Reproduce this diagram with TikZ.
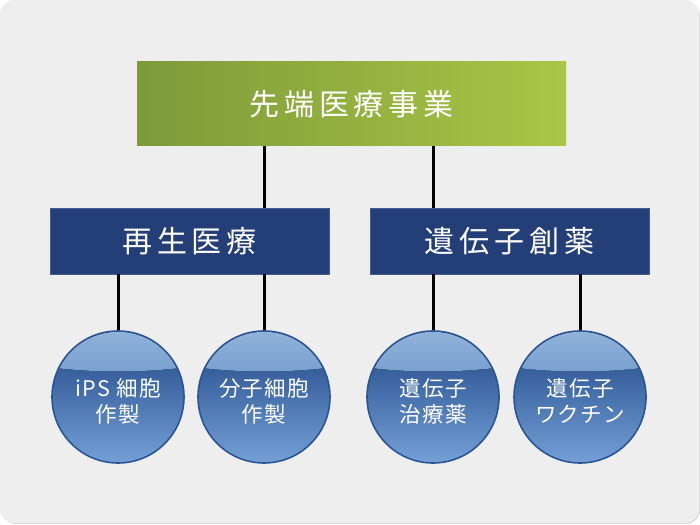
\documentclass[tikz,border=0pt]{standalone}
\usepackage{fontspec}
\setmainfont{Noto Sans CJK JP}
\newfontfamily\jpspaced[LetterSpace=16]{Noto Sans CJK JP}
\newfontfamily\jpball[LetterSpace=6]{Noto Sans CJK JP}
\usetikzlibrary{positioning}
\definecolor{bgGray}{HTML}{EEEEEE}
\definecolor{bgShadow}{HTML}{DADADA}
\definecolor{headLeft}{HTML}{7D9A3A}
\definecolor{headRight}{HTML}{ABC545}
\definecolor{groupBlue}{HTML}{243F78}
\definecolor{ballTop}{HTML}{1D4584}
\definecolor{ballMid}{HTML}{2D5EA2}
\definecolor{ballBottom}{HTML}{74A0D6}
\definecolor{ballRim}{HTML}{2A5594}
\definecolor{glossTop}{HTML}{92B4DC}
\definecolor{glossBottom}{HTML}{6C96C9}

\tikzset{
  headbox/.style={rectangle, minimum width=429pt, minimum height=84pt, inner sep=0pt,
    left color=headLeft, right color=headRight, text=white,
    font=\jpspaced\fontsize{30}{34}\selectfont},
  groupbox/.style={rectangle, minimum width=279pt, minimum height=66pt, inner sep=0pt,
    fill=groupBlue, draw=groupBlue!85!white, line width=0.6pt, text=white,
    font=\jpspaced\fontsize{30}{34}\selectfont},
  ball/.style={circle, minimum size=132pt, inner sep=0pt, line width=1.6pt,
    draw=ballRim, top color=ballTop, middle color=ballMid, bottom color=ballBottom},
  balltext/.style={text=white, align=center, yshift=-4pt,
    font=\jpball\fontsize{21.5}{26}\selectfont},
  gloss/.style={top color=glossTop, bottom color=glossBottom},
  link/.style={draw=black, line width=3pt}
}

\begin{document}
\begin{tikzpicture}[x=1pt,y=1pt]
  \useasboundingbox (0,0) rectangle (700,524);

  % background panel
  \fill[bgShadow, rounded corners=14pt] (2,0) rectangle (700,522);
  \fill[bgGray, rounded corners=14pt] (0,1) rectangle (699,524);

  % boxes
  \node[headbox] (top) at (351.5,420) {先端医療事業};
  \node[groupbox] (regen) at (189.5,283) {再生医療};
  \node[groupbox] (gene) at (509.5,283) {遺伝子創薬};

  % balls
  \node[ball] (ips) at (118,127) {};
  \node[ball] (mol) at (264,127) {};
  \node[ball] (therapy) at (433,127) {};
  \node[ball] (vaccine) at (580,127) {};

  % gloss on the balls
  \foreach \b in {ips,mol,therapy,vaccine}{
    \begin{scope}
      \clip (\b.center) circle (65.2);
      \fill[gloss] (\b.center) ++(-70,30) .. controls +(45,-6) and +(-45,-6) .. ++(140,0)
        -- ++(0,40) -- ++(-140,0) -- cycle;
    \end{scope}
  }

  % ball texts
  \node[balltext] (ipsText) at (ips) {iPS 細胞\\作製};
  \node[balltext] (molText) at (mol) {分子細胞\\作製};
  \node[balltext] (therapyText) at (therapy) {遺伝子\\治療薬};
  \node[balltext] (vaccineText) at (vaccine) {遺伝子\\ワクチン};

  % connectors
  \draw[link] (top.south -| mol) -- (regen.north -| mol);
  \draw[link] (top.south -| therapy) -- (gene.north -| therapy);
  \draw[link] (regen.south -| ips) -- (ips.north);
  \draw[link] (regen.south -| mol) -- (mol.north);
  \draw[link] (gene.south -| therapy) -- (therapy.north);
  \draw[link] (gene.south -| vaccine) -- (vaccine.north);
\end{tikzpicture}
\end{document}
